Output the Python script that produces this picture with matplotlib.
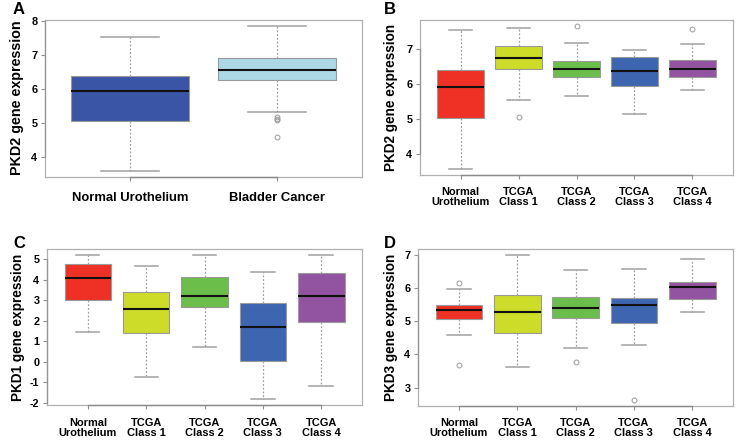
import matplotlib
matplotlib.use("Agg")
import matplotlib.pyplot as plt
from matplotlib.transforms import blended_transform_factory

plt.rcParams['font.family'] = ['Liberation Sans', 'DejaVu Sans']
plt.rcParams['font.weight'] = 'bold'

# ---------------- data ----------------
labels_A = ["Normal Urothelium", "Bladder Cancer"]
colors_A = ["#3A55A5", "#ADD8E6"]
whislo_A = [3.58, 5.32]
q1_A = [5.05, 6.25]
med_A = [5.95, 6.56]
q3_A = [6.39, 6.91]
whishi_A = [7.54, 7.86]
fliers_A = [[], [5.18, 5.12, 5.08, 4.59]]

labels_5 = ["Normal\nUrothelium", "TCGA\nClass 1", "TCGA\nClass 2", "TCGA\nClass 3", "TCGA\nClass 4"]
colors_5 = ["#EE3124", "#CDDB29", "#6CBE4B", "#3D65B0", "#9254A0"]

whislo_B = [3.58, 5.55, 5.67, 5.16, 5.84]
q1_B = [5.05, 6.42, 6.19, 5.94, 6.20]
med_B = [5.93, 6.73, 6.44, 6.36, 6.42]
q3_B = [6.39, 7.08, 6.66, 6.76, 6.68]
whishi_B = [7.54, 7.60, 7.18, 6.96, 7.13]
fliers_B = [[], [5.06], [7.66], [], [7.58]]

whislo_C = [1.45, -0.76, 0.72, -1.82, -1.17]
q1_C = [3.03, 1.39, 2.68, 0.06, 1.96]
med_C = [4.08, 2.58, 3.18, 1.68, 3.18]
q3_C = [4.76, 3.40, 4.13, 2.87, 4.34]
whishi_C = [5.18, 4.65, 5.18, 4.37, 5.21]
fliers_C = [[], [], [], [], []]

whislo_D = [4.59, 3.62, 4.20, 4.29, 5.29]
q1_D = [5.06, 4.63, 5.09, 4.96, 5.66]
med_D = [5.33, 5.29, 5.41, 5.49, 6.02]
q3_D = [5.48, 5.79, 5.72, 5.70, 6.19]
whishi_D = [5.98, 7.00, 6.55, 6.56, 6.87]
fliers_D = [[6.14, 3.69], [], [3.78], [2.62], []]

ylabels = ["PKD2 gene expression", "PKD2 gene expression",
           "PKD1 gene expression", "PKD3 gene expression"]
yticks_A = [4, 5, 6, 7, 8]
yticks_B = [4, 5, 6, 7]
yticks_C = [-2, -1, 0, 1, 2, 3, 4, 5]
yticks_D = [3, 4, 5, 6, 7]
panel_letters = ["A", "B", "C", "D"]

W, H = 738, 442
fig = plt.figure(figsize=(W / 100, H / 100), dpi=100)


def axes_px(l, t, r, b):
    return fig.add_axes([l / W, 1 - b / H, (r - l) / W, (b - t) / H])


def draw(ax, labels, colors, wl, q1, md, q3, wh, fl, yticks, xfs, tfs):
    stats = []
    for i in range(len(labels)):
        stats.append(dict(whislo=wl[i], q1=q1[i], med=md[i], q3=q3[i],
                          whishi=wh[i], fliers=fl[i]))
    n = len(labels)
    pos = list(range(1, n + 1))
    bp = ax.bxp(stats, positions=pos, widths=0.8, capwidths=0.4,
                patch_artist=True, showfliers=True,
                boxprops=dict(edgecolor="#9a9a9a", linewidth=0.8),
                whiskerprops=dict(color="#a0a0a0", linestyle=(0, (1.5, 1.5)), linewidth=0.9),
                capprops=dict(color="#a0a0a0", linewidth=1.1),
                medianprops=dict(color="#111111", linewidth=1.5),
                flierprops=dict(marker="o", markerfacecolor="none",
                                markeredgecolor="#9a9a9a", markersize=3.5,
                                markeredgewidth=0.7))
    for patch, c in zip(bp["boxes"], colors):
        patch.set_facecolor(c)
    allv = wl + wh + [v for f in fl for v in f]
    lo, hi = min(allv), max(allv)
    pad = 0.04 * (hi - lo)
    ax.set_ylim(lo - pad, hi + pad)
    xpad = 0.04 * n
    ax.set_xlim(0.5 - xpad, n + 0.5 + xpad)
    ax.set_xticks(pos)
    ax.set_xticklabels(labels, fontsize=xfs, fontweight="bold", linespacing=1.0)
    ax.set_yticks(yticks)
    ax.set_yticklabels([str(t) for t in yticks], fontsize=tfs, fontweight="bold")
    for s in ax.spines.values():
        s.set_color("#b0b0b0")
        s.set_linewidth(0.9)
    ax.tick_params(axis="both", color="#909090", length=3, width=0.8, pad=2.5)
    ax.tick_params(axis="x", pad=6)
    tr = blended_transform_factory(ax.transData, ax.transAxes)
    ax.plot([pos[0], pos[-1]], [0, 0], color="#8a8a8a", lw=1.0,
            transform=tr, clip_on=False, zorder=5)
    tr2 = blended_transform_factory(ax.transAxes, ax.transData)
    ax.plot([0, 0], [yticks[0], yticks[-1]], color="#959595", lw=0.9,
            transform=tr2, clip_on=False, zorder=5)


axA = axes_px(45, 20, 362, 177)
draw(axA, labels_A, colors_A, whislo_A, q1_A, med_A, q3_A, whishi_A, fliers_A,
     yticks_A, 9.4, 7.8)
axA.tick_params(axis="x", pad=8)

axB = axes_px(420, 20, 733, 175)
draw(axB, labels_5, colors_5, whislo_B, q1_B, med_B, q3_B, whishi_B, fliers_B,
     yticks_B, 7.9, 7.8)

axC = axes_px(47, 249, 362, 405)
draw(axC, labels_5, colors_5, whislo_C, q1_C, med_C, q3_C, whishi_C, fliers_C,
     yticks_C, 7.9, 7.8)

axD = axes_px(418, 249, 733, 406)
draw(axD, labels_5, colors_5, whislo_D, q1_D, med_D, q3_D, whishi_D, fliers_D,
     yticks_D, 7.9, 7.8)

# y labels
ylab_pos = [(17, 98), (391, 97), (18, 327), (391, 327)]
ylab_fs = [10.3, 9.8, 9.8, 9.8]
for (x, y), txt, fs in zip(ylab_pos, ylabels, ylab_fs):
    fig.text(x / W, 1 - y / H, txt, rotation=90, ha="center", va="center",
             fontsize=fs, fontweight="bold")

# panel letters
let_pos = [(19, 10), (390, 10), (19, 243), (390, 243)]
for (x, y), t in zip(let_pos, panel_letters):
    fig.text(x / W, 1 - y / H, t, ha="center", va="center",
             fontsize=12, fontweight="bold")

fig.savefig("out.png", dpi=100)
